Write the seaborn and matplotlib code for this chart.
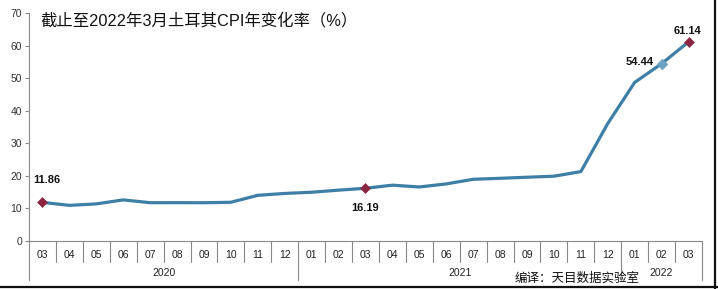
import matplotlib
matplotlib.use("Agg")
import matplotlib.pyplot as plt
import matplotlib.transforms as mtransforms
from matplotlib.lines import Line2D
import seaborn as sns
import pandas as pd

months = ["03", "04", "05", "06", "07", "08", "09", "10", "11", "12",
          "01", "02", "03", "04", "05", "06", "07", "08", "09", "10", "11", "12",
          "01", "02", "03"]
years = ["2020", "2021", "2022"]
year_counts = [10, 12, 3]
cpi = [11.86, 10.94, 11.39, 12.62, 11.76, 11.77, 11.75, 11.89, 14.03, 14.60,
       14.97, 15.61, 16.19, 17.14, 16.59, 17.53, 18.95, 19.25, 19.58, 19.89, 21.31, 36.08,
       48.69, 54.44, 61.14]
title = "截止至2022年3月土耳其CPI年变化率（%）"
source = "编译：天目数据实验室"

sns.set_theme(style="white")
plt.rcParams['font.family'] = ['Liberation Sans', 'Noto Sans CJK SC', 'DejaVu Sans']

df = pd.DataFrame({"i": range(len(cpi)), "cpi": cpi})

fig = plt.figure(figsize=(7.18, 2.89), dpi=100)
ax = fig.add_axes([29/718, 1-241/289, (702-29)/718, (241-13)/289])

sns.lineplot(data=df, x="i", y="cpi", ax=ax, color="#3d7fa6", linewidth=2.3)

mk = df.iloc[[0, 12, 24]]
sns.scatterplot(data=mk, x="i", y="cpi", ax=ax, marker="D", s=26, color="#8c2540",
                edgecolor="#8c2540", zorder=5)
mk2 = df.iloc[[23]]
sns.scatterplot(data=mk2, x="i", y="cpi", ax=ax, marker="D", s=30, color="#6aa2c4",
                edgecolor="#6aa2c4", zorder=5)

ax.set_xlim(-0.5, len(cpi) - 0.5)
ax.set_ylim(0, 70)
ax.set_yticks(range(0, 71, 10))
ax.set_yticklabels([str(v) for v in range(0, 71, 10)], fontsize=7.5, color="#333333")
ax.tick_params(axis="y", length=3, width=0.8, color="#888888", pad=2, left=True)
ax.set_xticks([])
ax.set_xlabel("")
ax.set_ylabel("")
for s in ["top", "right"]:
    ax.spines[s].set_visible(False)
ax.spines["left"].set_color("#888888")
ax.spines["bottom"].set_color("#888888")
ax.spines["left"].set_linewidth(0.8)
ax.spines["bottom"].set_linewidth(0.8)

# annotations
ax.annotate(f"{cpi[0]:.2f}", (0, cpi[0]), xytext=(3, 16), textcoords="offset points",
            ha="center", va="center", fontsize=8, fontweight="bold", color="#111111")
ax.annotate(f"{cpi[12]:.2f}", (12, cpi[12]), xytext=(0, -14), textcoords="offset points",
            ha="center", va="center", fontsize=8, fontweight="bold", color="#111111")
ax.annotate(f"{cpi[23]:.2f}", (23, cpi[23]), xytext=(-16, 1), textcoords="offset points",
            ha="center", va="center", fontsize=8, fontweight="bold", color="#111111")
ax.annotate(f"{cpi[24]:.2f}", (24, cpi[24]), xytext=(-1, 8), textcoords="offset points",
            ha="center", va="center", fontsize=8, fontweight="bold", color="#111111")

# category axis
trans = mtransforms.blended_transform_factory(ax.transData, ax.transAxes)
ph = 241 - 13
def ay(py):
    return (241 - py) / ph

for i, m in enumerate(months):
    ax.text(i, ay(255), m, transform=trans, ha="center", va="center",
            fontsize=7.5, color="#222222", clip_on=False)

boundaries = [-0.5]
for c in year_counts:
    boundaries.append(boundaries[-1] + c)
year_bounds = set(boundaries)
for k in range(len(months) + 1):
    x = k - 0.5
    y_end = ay(280) if x in year_bounds else ay(262)
    ax.add_line(Line2D([x, x], [0, y_end], transform=trans, color="#888888",
                       linewidth=0.8, clip_on=False))

for j, y in enumerate(years):
    cx = (boundaries[j] + boundaries[j + 1]) / 2
    ax.text(cx, ay(273), y, transform=trans, ha="center", va="center",
            fontsize=7.5, color="#222222", clip_on=False)

fig.text(40/718, 1-20/289, title, ha="left", va="center", fontsize=11.8, color="#111111")
fig.text(577/718, 1-279/289, source, ha="center", va="center", fontsize=9, color="#111111")

# outer frame lines (right and bottom)
fig.add_artist(Line2D([715/718, 715/718], [0, 1], transform=fig.transFigure,
                      color="#111111", linewidth=1.6))
fig.add_artist(Line2D([0, 1], [1-287/289, 1-287/289], transform=fig.transFigure,
                      color="#111111", linewidth=1.6))

fig.savefig("out.png", dpi=100)
